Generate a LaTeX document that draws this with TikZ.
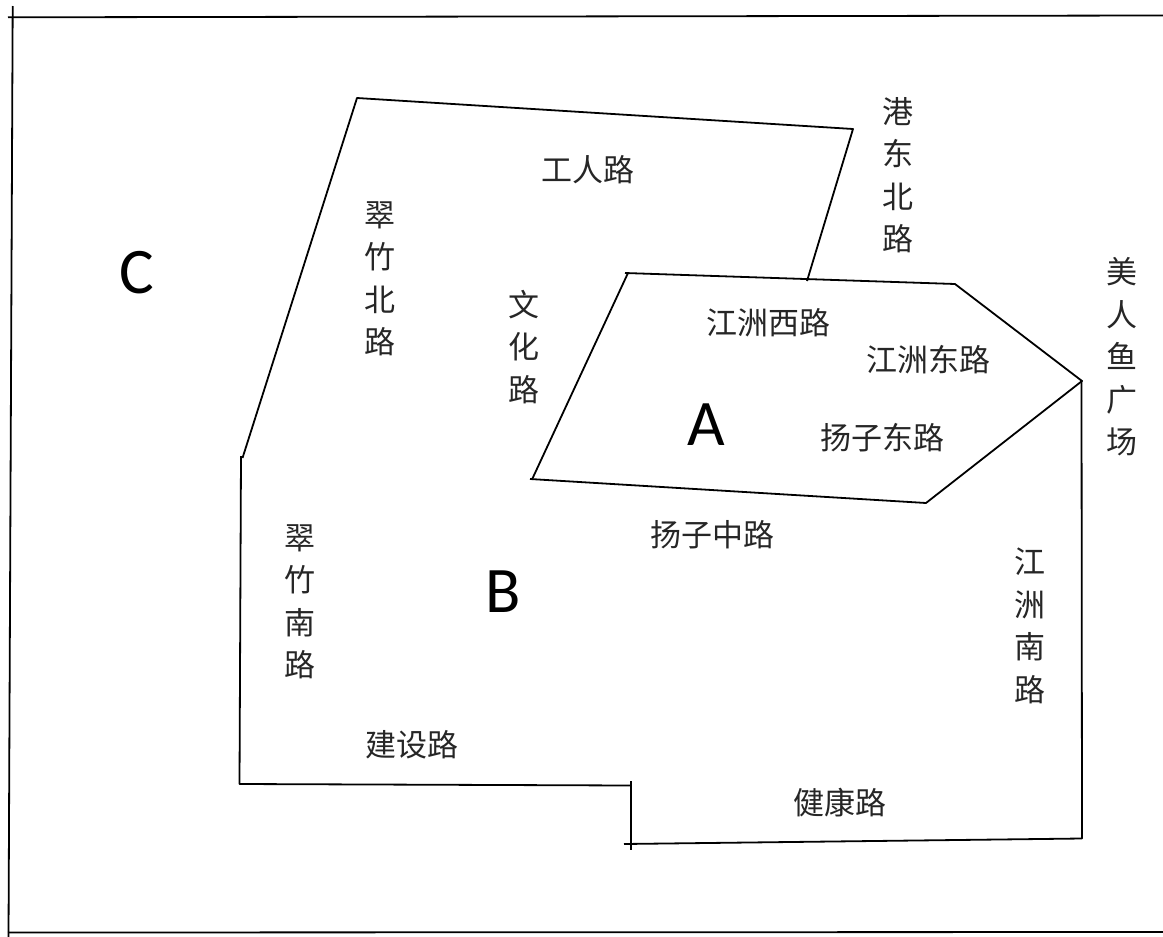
\documentclass[tikz,border=0pt]{standalone}
\usepackage{fontspec}
\setmainfont{Carlito}
\newfontfamily\cjk{Noto Sans CJK SC}
\tikzset{road/.style={font=\cjk\fontsize{31}{42.5}\selectfont,inner sep=0pt,align=center,text=black!85},
big/.style={font=\fontsize{65}{72}\selectfont,inner sep=0pt},
ln/.style={line width=1.8pt,black,line cap=butt,line join=round}}
\begin{document}
\begin{tikzpicture}[x=1pt,y=-1pt]
\useasboundingbox (0,0) rectangle (1163,937);
% frame
\coordinate (f1) at (8,17.3);
\coordinate (f2) at (1163,15.5);
\coordinate (f3) at (12.7,6);
\coordinate (f4) at (8.5,937);
\coordinate (f5) at (8,932.5);
\coordinate (f6) at (1163,932);
\draw[ln] (f1)--(f2);
\draw[ln] (f3)--(f4);
\draw[ln] (f5)--(f6);
% outer
\coordinate (c1) at (357,98);
\coordinate (c2) at (853,129);
\coordinate (c3) at (807,281);
\coordinate (c4) at (242.5,458);
\draw[ln] (c3)--(c2)--(c1)--(c4);
% A
\coordinate (a0) at (625,273);
\coordinate (a1) at (628,273);
\coordinate (a2) at (955,284);
\coordinate (a3) at (1082,381);
\coordinate (a4) at (926,503);
\coordinate (a5) at (530,479);
\coordinate (a6) at (532,479.5);
\draw[ln] (a0)--(a2)--(a3)--(a4)--(a5);
\draw[ln] (a1)--(a6);
% B
\coordinate (b1) at (241,456);
\coordinate (b2) at (239.5,784);
\coordinate (b3) at (630,785.5);
\coordinate (b4t) at (631,781);
\coordinate (b4b) at (631,850);
\coordinate (b5l) at (624,844);
\coordinate (b5) at (1082,838.5);
\coordinate (b6) at (1081.5,380);
\draw[ln] (b1)--(b2)--(b3);
\draw[ln] (b4t)--(b4b);
\draw[ln] (b5l)--(b5)--(b6);
\node[road] (n1) at (588,170) {工人路};
\node[road] (n2) at (898,175) {港\\东\\北\\路};
\node[road] (n3) at (380,279) {翠\\竹\\北\\路};
\node[road] (n4) at (524,347) {文\\化\\路};
\node[road] (n5) at (768,323) {江洲西路};
\node[road] (n6) at (928,360) {江洲东路};
\node[road] (n7) at (882,438) {扬子东路};
\node[road] (n8) at (1122,357) {美\\人\\鱼\\广\\场};
\node[road] (n9) at (712,535) {扬子中路};
\node[road] (n10) at (300,602) {翠\\竹\\南\\路};
\node[road] (n11) at (1030,626) {江\\洲\\南\\路};
\node[road] (n12) at (412,745) {建设路};
\node[road] (n13) at (840,803) {健康路};
\node[big] (A) at (706,425) {A};
\node[big] (B) at (503,592) {B};
\node[big] (C) at (137,273) {C};
\end{tikzpicture}
\end{document}
